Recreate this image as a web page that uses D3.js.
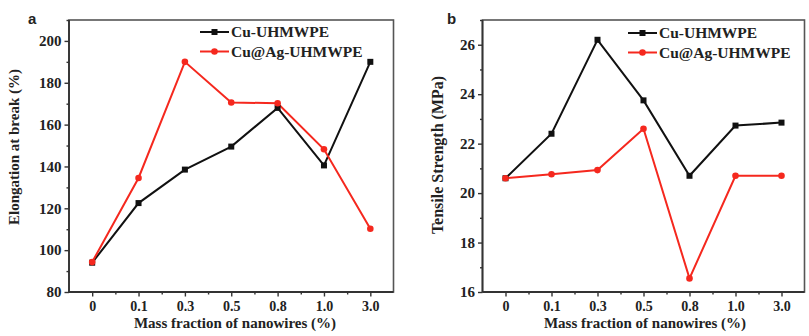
<!DOCTYPE html>
<html>
<head>
<meta charset="utf-8">
<script src="https://cdn.jsdelivr.net/npm/d3@7"></script>
<style>
  body { margin: 0; background: #fff; }
  svg text { font-family: "Liberation Serif", "Times New Roman", serif; font-weight: bold; fill: #222; }
  .panel-label { font-family: "Liberation Sans", Arial, sans-serif !important; }
</style>
</head>
<body>
<div id="chart"></div>
<script>
// data
var massFractions = ["0", "0.1", "0.3", "0.5", "0.8", "1.0", "3.0"];
var seriesNames = ["Cu-UHMWPE", "Cu@Ag-UHMWPE"];
var seriesColors = ["#111111", "#f5281e"];

var elongationCu = [94, 122.5, 138.5, 149.5, 168, 140.5, 190];
var elongationCuAg = [94.3, 134.5, 190, 170.6, 170.2, 148.2, 110.2];

var tensileCu = [20.6, 22.4, 26.2, 23.75, 20.7, 22.73, 22.85];
var tensileCuAg = [20.6, 20.76, 20.93, 22.6, 16.55, 20.7, 20.7];

var elongTicks = [80, 100, 120, 140, 160, 180, 200];
var tensileTicks = [16, 18, 20, 22, 24, 26];

var svg = d3.select("#chart").append("svg")
    .attr("width", 809)
    .attr("height", 336);

svg.append("rect").attr("width", 809).attr("height", 336).attr("fill", "#fff");

function drawPanel(opt) {
    var g = svg.append("g");
    var w = opt.right - opt.left, h = opt.bottom - opt.top;

    var x = d3.scaleLinear().domain([-0.5, massFractions.length - 0.5]).range([opt.left, opt.right]);
    var y = d3.scaleLinear().domain(opt.yDomain).range([opt.bottom, opt.top]);

    // frame
    g.append("rect")
        .attr("x", opt.left).attr("y", opt.top)
        .attr("width", w).attr("height", h)
        .attr("fill", "none")
        .attr("stroke", "#555")
        .attr("stroke-width", 1.6);

    // minor ticks
    var xMinor = d3.range(0, massFractions.length - 1).map(function(i) { return i + 0.5; });
    var yMinor = opt.yTicks.slice(0, -1).map(function(v, i) { return (v + opt.yTicks[i + 1]) / 2; });
    var step = opt.yTicks[1] - opt.yTicks[0];
    yMinor.push(opt.yTicks[opt.yTicks.length - 1] + step / 2);

    var xAxisMinor = d3.axisBottom(x).tickValues(xMinor).tickSize(2.5).tickFormat("");
    var yAxisMinor = d3.axisLeft(y).tickValues(yMinor.filter(function(v) { return v <= opt.yDomain[1]; })).tickSize(2.5).tickFormat("");

    g.append("g").attr("transform", "translate(0," + opt.bottom + ")").call(xAxisMinor);
    g.append("g").attr("transform", "translate(" + opt.left + ",0)").call(yAxisMinor);

    var xAxis = d3.axisBottom(x)
        .tickValues(d3.range(massFractions.length))
        .tickFormat(function(i) { return massFractions[i]; })
        .tickSize(4.5).tickPadding(5);
    var yAxis = d3.axisLeft(y)
        .tickValues(opt.yTicks)
        .tickSize(4.5).tickPadding(3);

    var gx = g.append("g").attr("transform", "translate(0," + opt.bottom + ")").call(xAxis);
    var gy = g.append("g").attr("transform", "translate(" + opt.left + ",0)").call(yAxis);

    g.selectAll(".domain").remove();
    g.selectAll(".tick line").attr("stroke", "#333").attr("stroke-width", 1.4);
    gx.selectAll("text").attr("font-size", 14).attr("fill", "#222");
    gy.selectAll("text").attr("font-size", 15).attr("fill", "#222");

    // left and bottom axis lines
    g.append("line").attr("x1", opt.left).attr("x2", opt.left).attr("y1", opt.top).attr("y2", opt.bottom)
        .attr("stroke", "#333").attr("stroke-width", 1.8);
    g.append("line").attr("x1", opt.left).attr("x2", opt.right).attr("y1", opt.bottom).attr("y2", opt.bottom)
        .attr("stroke", "#333").attr("stroke-width", 1.8);

    // axis titles
    g.append("text")
        .attr("x", opt.xTitleX)
        .attr("y", 328)
        .attr("text-anchor", "middle")
        .attr("font-size", 15)
        .text("Mass fraction of nanowires (%)");

    g.append("text")
        .attr("transform", "translate(" + opt.yTitleX + "," + opt.yTitleY + ") rotate(-90)")
        .attr("text-anchor", "middle")
        .attr("dy", "0.35em")
        .attr("font-size", opt.yTitleSize)
        .text(opt.yTitle);

    // panel label
    g.append("text")
        .attr("class", "panel-label")
        .attr("x", opt.labelX).attr("y", 24)
        .attr("font-size", 15)
        .text(opt.label);

    // lines
    var line = d3.line()
        .x(function(d, i) { return x(i); })
        .y(function(d) { return y(d); });

    opt.series.forEach(function(values, si) {
        g.append("path")
            .datum(values)
            .attr("fill", "none")
            .attr("stroke", seriesColors[si])
            .attr("stroke-width", 2)
            .attr("stroke-linejoin", "miter")
            .attr("d", line);
    });

    // markers: black squares, red circles
    opt.series.forEach(function(values, si) {
        var mk = g.append("g").selectAll(".mk").data(values).enter();
        if (si === 0) {
            mk.append("rect")
                .attr("x", function(d, i) { return x(i) - 3; })
                .attr("y", function(d) { return y(d) - 3; })
                .attr("width", 6).attr("height", 6)
                .attr("fill", seriesColors[si]);
        } else {
            mk.append("circle")
                .attr("cx", function(d, i) { return x(i); })
                .attr("cy", function(d) { return y(d); })
                .attr("r", 3.3)
                .attr("fill", seriesColors[si]);
        }
    });

    // legend
    var leg = g.append("g").attr("transform", "translate(" + opt.legendX + "," + opt.legendY + ")");
    seriesNames.forEach(function(name, si) {
        var ly = si * 19.5;
        leg.append("line")
            .attr("x1", 0).attr("x2", 29).attr("y1", ly).attr("y2", ly)
            .attr("stroke", seriesColors[si]).attr("stroke-width", 2);
        if (si === 0) {
            leg.append("rect").attr("x", 11.5).attr("y", ly - 3).attr("width", 6).attr("height", 6)
                .attr("fill", seriesColors[si]);
        } else {
            leg.append("circle").attr("cx", 14.5).attr("cy", ly).attr("r", 3.3)
                .attr("fill", seriesColors[si]);
        }
        leg.append("text")
            .attr("x", 31).attr("y", ly)
            .attr("dy", "0.35em")
            .attr("font-size", 15.5)
            .text(name);
    });
}

drawPanel({
    left: 69, right: 393.5, top: 20, bottom: 292,
    yDomain: [80, 210],
    yTicks: elongTicks,
    yTitle: "Elongation at break (%)",
    yTitleX: 14, yTitleY: 147, yTitleSize: 15,
    xTitleX: 235,
    label: "a", labelX: 28,
    legendX: 200, legendY: 32,
    series: [elongationCu, elongationCuAg]
});

drawPanel({
    left: 482.5, right: 804.5, top: 20, bottom: 292,
    yDomain: [16, 27],
    yTicks: tensileTicks,
    yTitle: "Tensile Strength (MPa)",
    yTitleX: 437, yTitleY: 155, yTitleSize: 16,
    xTitleX: 645,
    label: "b", labelX: 447,
    legendX: 628, legendY: 33,
    series: [tensileCu, tensileCuAg]
});
</script>
</body>
</html>
